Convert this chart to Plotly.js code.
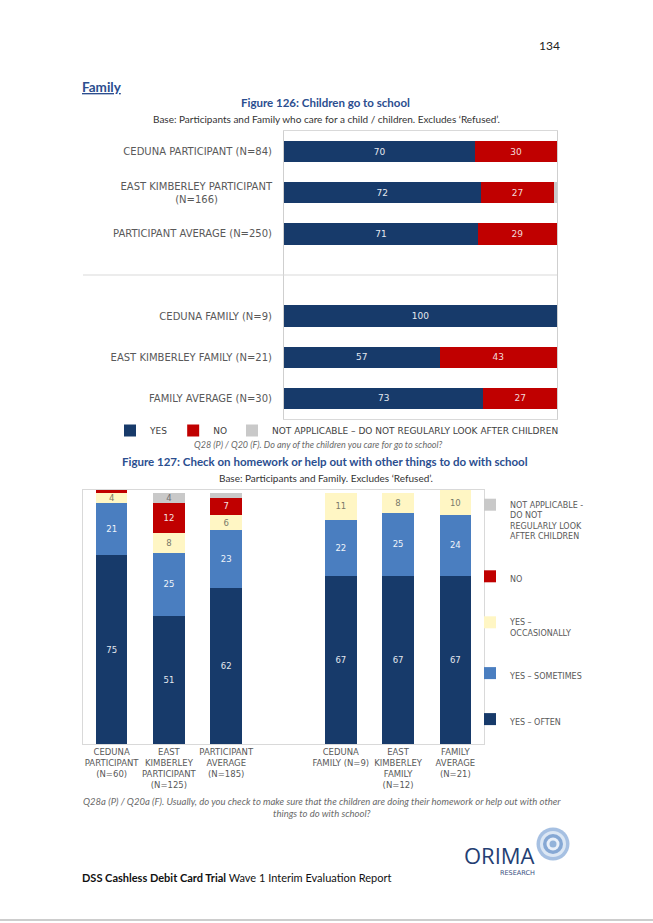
<!DOCTYPE html>
<html>
<head>
<meta charset="utf-8">
<script src="https://cdn.plot.ly/plotly-3.0.1.min.js"></script>
<style>
html,body{margin:0;padding:0;background:#fff;}
#chart{width:653px;height:923px;}
</style>
</head>
<body>
<div id="chart"></div>
<script>
// ---------- Figure 126 data ----------
const fig126Groups = [
  "CEDUNA PARTICIPANT (N=84)",
  "EAST KIMBERLEY PARTICIPANT<br>(N=166)\u00a0\u00a0\u00a0\u00a0\u00a0\u00a0\u00a0\u00a0\u00a0\u00a0\u00a0\u00a0\u00a0\u00a0\u00a0\u00a0\u00a0",
  "PARTICIPANT AVERAGE (N=250)",
  "CEDUNA FAMILY (N=9)",
  "EAST KIMBERLEY FAMILY (N=21)",
  "FAMILY AVERAGE (N=30)"
];
const fig126Spacer = " ";
const fig126Yes = [70, 72, 71, 100, 57, 73];
const fig126No  = [30, 27, 29, 0, 43, 27];
const fig126NA  = [0, 1, 0, 0, 0, 0];
const fig126Series = ["YES", "NO", "NOT APPLICABLE \u2013 DO NOT REGULARLY LOOK AFTER CHILDREN"];

// ---------- Figure 127 data ----------
const fig127Groups = [
  "CEDUNA<br>PARTICIPANT<br>(N=60)",
  "EAST<br>KIMBERLEY<br>PARTICIPANT<br>(N=125)",
  "PARTICIPANT<br>AVERAGE<br>(N=185)",
  "CEDUNA<br>FAMILY (N=9)",
  "EAST<br>KIMBERLEY<br>FAMILY<br>(N=12)",
  "FAMILY<br>AVERAGE<br>(N=21)"
];
const fig127Spacer = " ";
const fig127Often        = [75, 51, 62, 67, 67, 67];
const fig127Sometimes    = [21, 25, 23, 22, 25, 24];
const fig127Occasionally = [4, 8, 6, 11, 8, 10];
const fig127No           = [1, 12, 7, 0, 0, 0];
const fig127NA           = [0, 4, 2, 0, 0, 0];
const fig127Series = [
  "YES \u2013 OFTEN",
  "YES \u2013 SOMETIMES",
  "YES \u2013<br>OCCASIONALLY",
  "NO",
  "NOT APPLICABLE -<br>DO NOT<br>REGULARLY LOOK<br>AFTER CHILDREN"
];

// ---------- helpers ----------
const W = 653, H = 923;
const px = x => x / W;
const py = y => 1 - y / H;
const NAVY = "#173A6A", RED = "#C00000", GREY = "#C9C9C9", MID = "#4A7EC0", PALE = "#FFF6C4";
const labelOf = arr => arr.map(v => (v >= 3 ? String(v) : ""));
const withSpacer = (arr, idx, sp) => arr.slice(0, idx).concat([sp], arr.slice(idx));

const tickFont1 = {family: "DejaVu Sans", size: 10, color: "#595959"};
const tickFont2 = {family: "DejaVu Sans", size: 8.5, color: "#595959"};

function hbar(name, vals, color, txtColor) {
  return {
    type: "bar", orientation: "h", name: name,
    x: vals, y: fig126Groups,
    xaxis: "x", yaxis: "y", legend: "legend",
    marker: {color: color, line: {width: 0}},
    width: 0.52,
    text: labelOf(vals), textposition: "inside", insidetextanchor: "middle",
    constraintext: "none", textangle: 0,
    textfont: {family: "DejaVu Sans", size: 9, color: txtColor},
    hoverinfo: "skip"
  };
}
function vbar(name, vals, color, txtColor, grp, rank) {
  return {
    type: "bar", name: name,
    x: fig127Groups, y: vals,
    xaxis: "x2", yaxis: "y2", legend: "legend2", legendgroup: grp, legendrank: rank,
    marker: {color: color, line: {width: 0}},
    width: 0.55,
    text: labelOf(vals), textposition: "inside", insidetextanchor: "middle",
    constraintext: "none", textangle: 0,
    textfont: {family: "DejaVu Sans", size: 8.5, color: txtColor},
    hoverinfo: "skip"
  };
}

const traces = [
  hbar(fig126Series[0], fig126Yes, NAVY, "#E4E8EF"),
  hbar(fig126Series[1], fig126No, RED, "#F2DADA"),
  hbar(fig126Series[2], fig126NA, GREY, "#6F6F6F"),
  vbar(fig127Series[0], fig127Often, NAVY, "#E4E8EF", "g1", 5),
  vbar(fig127Series[1], fig127Sometimes, MID, "#F0F4FA", "g2", 4),
  vbar(fig127Series[2], fig127Occasionally, PALE, "#7A7A6A", "g3", 3),
  vbar(fig127Series[3], fig127No, RED, "#F5E0E0", "g4", 2),
  vbar(fig127Series[4], fig127NA, GREY, "#6F6F6F", "g5", 1)
];

function ann(x, y, text, o) {
  o = o || {};
  return {
    xref: "paper", yref: "paper", x: px(x), y: py(y), text: text,
    showarrow: false, xanchor: o.xa || "center", yanchor: o.ya || "middle",
    align: o.align || "center",
    font: {family: o.family || "Lato", size: o.size || 10, color: o.color || "#333333"}
  };
}
const BLUE = "#2B4E8F";
const annotations = [
  ann(562, 46, "134", {size: 12, xa: "right", color: "#222"}),
  ann(80, 87, "<b><u>Family</u></b>", {size: 13.5, xa: "left", color: BLUE}),
  ann(325, 103, "<b>Figure 126: Children go to school</b>", {size: 11.5, color: BLUE}),
  ann(326, 119, "Base: Participants and Family who care for a child / children. Excludes \u2018Refused\u2019.", {size: 10, color: "#333"}),
  ann(318, 444, "<i>Q28 (P) / Q20 (F). Do any of the children you care for go to school?</i>", {size: 9, color: "#6A6A6A"}),
  ann(325, 462, "<b>Figure 127: Check on homework or help out with other things to do with school</b>", {size: 11.5, color: BLUE}),
  ann(326, 478, "Base: Participants and Family. Excludes \u2018Refused\u2019.", {size: 10, color: "#333"}),
  ann(322, 807, "<i>Q28a (P) / Q20a (F). Usually, do you check to make sure that the children are doing their homework or help out with other<br>things to do with school?</i>", {size: 9.5, color: "#6A6A6A"}),
  ann(80, 877, "<b>DSS Cashless Debit Card Trial</b> Wave 1 Interim Evaluation Report", {size: 11, xa: "left", color: "#111"}),
  ann(499, 855, "ORIMA", {size: 22, family: "Open Sans", color: "#243E73"}),
  ann(517, 873, "RESEARCH", {size: 6.5, family: "DejaVu Sans", color: "#3A4F7F"})
];

function circ(cx, cy, r, fill) {
  return {type: "circle", xref: "paper", yref: "paper",
    x0: px(cx - r), x1: px(cx + r), y0: py(cy + r), y1: py(cy - r),
    fillcolor: fill, line: {width: 0}, layer: "below"};
}
const shapes = [
  {type: "line", xref: "paper", yref: "paper", x0: px(83), x1: px(557), y0: py(275), y1: py(275), line: {color: "#D9D9D9", width: 1}},
  {type: "line", xref: "paper", yref: "paper", x0: 0, x1: 1, y0: py(920), y1: py(920), line: {color: "#BDBDBD", width: 1.5}},
  circ(553, 844, 16.5, "#A6C0E2"),
  circ(553, 844, 13, "#DCE7F4"),
  circ(553, 844, 10, "#86A8D4"),
  circ(553, 844, 6.5, "#E9F0F9"),
  circ(553, 844, 3.5, "#93B3DA")
];

const layout = {
  width: W, height: H,
  margin: {l: 0, r: 0, t: 0, b: 0},
  paper_bgcolor: "#ffffff", plot_bgcolor: "rgba(0,0,0,0)",
  barmode: "stack",
  showlegend: true,
  xaxis: {
    domain: [px(284), px(557)], anchor: "y", range: [0, 100],
    showticklabels: false, showgrid: false, zeroline: false, ticks: "",
    showline: true, mirror: true, linecolor: "#D9D9D9", linewidth: 1, fixedrange: true
  },
  yaxis: {
    domain: [py(419), py(131)], anchor: "x", type: "category",
    categoryorder: "array", categoryarray: withSpacer(fig126Groups, 3, fig126Spacer),
    autorange: "reversed", ticks: "", tickfont: tickFont1, ticklabelstandoff: 9,
    showgrid: false, zeroline: false,
    showline: true, mirror: true, linecolor: "#CFCFCF", linewidth: 1, fixedrange: true
  },
  xaxis2: {
    domain: [px(83), px(484)], anchor: "y2", type: "category",
    categoryorder: "array", categoryarray: withSpacer(fig127Groups, 3, fig127Spacer),
    ticks: "", tickfont: tickFont2, tickangle: 0,
    showgrid: false, zeroline: false,
    showline: true, mirror: true, linecolor: "#D9D9D9", linewidth: 1, fixedrange: true
  },
  yaxis2: {
    domain: [py(744), py(490)], anchor: "x2", range: [0, 101],
    showticklabels: false, showgrid: false, zeroline: false, ticks: "",
    showline: true, mirror: true, linecolor: "#D9D9D9", linewidth: 1, fixedrange: true
  },
  legend: {
    orientation: "h", x: px(110), xanchor: "left", y: py(416), yanchor: "top",
    font: {family: "DejaVu Sans", size: 9, color: "#404040"},
    bgcolor: "rgba(0,0,0,0)", borderwidth: 0, traceorder: "normal"
  },
  legend2: {
    orientation: "v", x: px(470), xanchor: "left", y: py(493), yanchor: "top",
    font: {family: "DejaVu Sans", size: 8, color: "#595959"},
    traceorder: "grouped", tracegroupgap: 27, valign: "top",
    bgcolor: "rgba(0,0,0,0)", borderwidth: 0
  },
  annotations: annotations,
  shapes: shapes,
  font: {family: "DejaVu Sans"}
};

Plotly.newPlot("chart", traces, layout, {displayModeBar: false, staticPlot: true});
</script>
</body>
</html>
